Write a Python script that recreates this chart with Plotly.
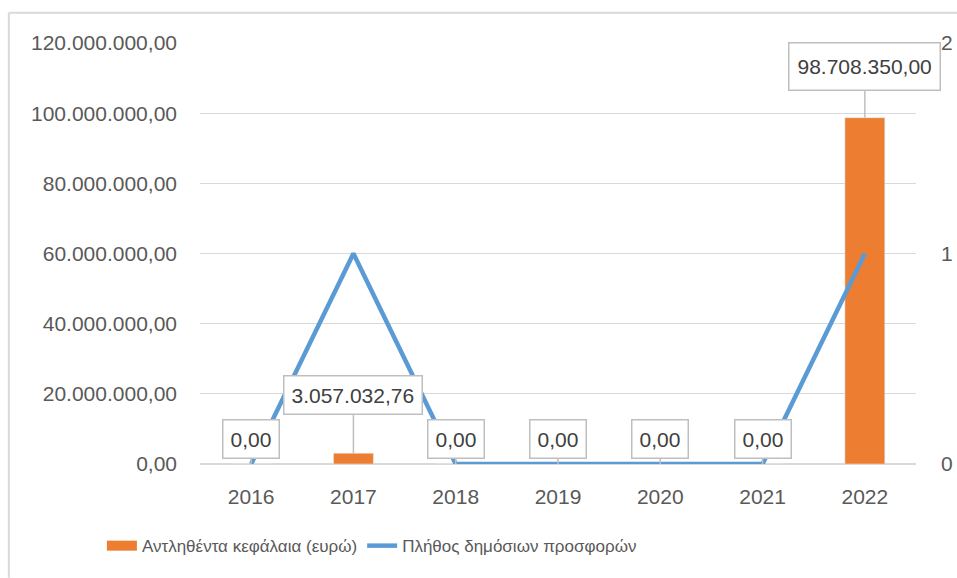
import plotly.graph_objects as go

years = ["2016", "2017", "2018", "2019", "2020", "2021", "2022"]
funds = [0.00, 3057032.76, 0.00, 0.00, 0.00, 0.00, 98708350.00]
offers = [0, 1, 0, 0, 0, 0, 1]
bar_name = "Αντληθέντα κεφάλαια (ευρώ)"
line_name = "Πλήθος δημόσιων προσφορών"

FONT = "Liberation Sans"
GREY = "#595959"
ORANGE = "#ED7D31"
BLUE = "#5B9BD5"


def fmt(v):
    s = f"{v:,.2f}"
    return s.replace(",", "X").replace(".", ",").replace("X", ".")


fig = go.Figure()
fig.add_trace(go.Bar(x=years, y=funds, name=bar_name, marker_color=ORANGE,
                     yaxis="y", showlegend=False, legendgroup="bar"))
# legend proxy so the bar's key is a wide rectangle as in the original
fig.add_trace(go.Scatter(x=[None], y=[None], name=bar_name, mode="lines",
                         line=dict(color=ORANGE, width=13), yaxis="y",
                         legendgroup="bar", hoverinfo="skip"))
fig.add_trace(go.Scatter(x=years, y=offers, name=line_name, mode="lines",
                         line=dict(color=BLUE, width=4.5), yaxis="y2"))

annotations = []
for i, v in enumerate(funds):
    extra = {}
    if v == 0:
        ay = -25
        pad = 7
    elif v < 10_000_000:
        ay = -58
        pad = 7
    else:
        ay = -51
        pad = 8
        extra = dict(height=30)
    annotations.append(dict(
        x=i, y=v, xref="x", yref="y", text=fmt(v), showarrow=True,
        arrowhead=0, arrowwidth=1.5, arrowcolor="#BFBFBF", ax=0, ay=ay,
        bgcolor="white", bordercolor="#BFBFBF", borderwidth=1.5, borderpad=pad,
        font=dict(family=FONT, size=21, color="#404040"), **extra))

fig.update_layout(
    width=957, height=578,
    margin=dict(l=200, r=41, t=43, b=114, autoexpand=False),
    paper_bgcolor="white", plot_bgcolor="white",
    separators=",.",
    font=dict(family=FONT, size=21, color=GREY),
    bargap=0.61,
    xaxis=dict(type="category", categoryarray=years, range=[-0.5, len(years) - 0.5],
               showgrid=False, showline=False, ticks="", automargin=False,
               tickfont=dict(size=21, color=GREY), ticklabelstandoff=18),
    yaxis=dict(range=[0, 120_000_000], dtick=20_000_000, tickformat=",.2f",
               showgrid=True, gridcolor="#D9D9D9", gridwidth=1, zeroline=True,
               zerolinecolor="#D9D9D9", zerolinewidth=1.5, showline=False,
               automargin=False, ticks="", ticklabelstandoff=22,
               tickfont=dict(size=21, color=GREY)),
    yaxis2=dict(range=[0, 2], dtick=1, overlaying="y", side="right",
                showgrid=False, zeroline=False, showline=False, ticks="",
                automargin=False, ticklabelstandoff=24,
                tickfont=dict(size=21, color=GREY)),
    legend=dict(orientation="h", x=-0.137, xanchor="left", y=-0.195,
                yanchor="middle", font=dict(size=17, color=GREY),
                itemwidth=30, itemclick=False),
    annotations=annotations,
    shapes=[
        dict(type="line", xref="paper", yref="paper", x0=-0.267, x1=1.06,
             y0=1.072, y1=1.072, line=dict(color="#D9D9D9", width=2)),
        dict(type="line", xref="paper", yref="paper", x0=-0.267, x1=-0.267,
             y0=1.072, y1=-0.27, line=dict(color="#D9D9D9", width=2)),
    ],
)

fig.write_html("out.html")
